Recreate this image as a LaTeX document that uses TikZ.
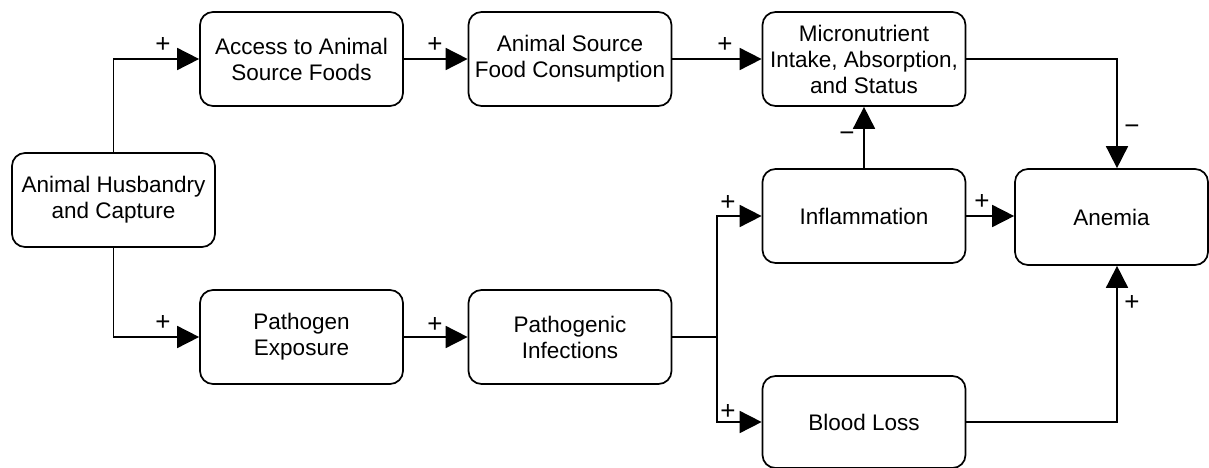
\documentclass[tikz,border=0pt]{standalone}
\usepackage{fontspec}
\setmainfont{Liberation Sans}
\usetikzlibrary{arrows.meta}
\begin{document}
\begin{tikzpicture}[x=1pt,y=-1pt,
  box/.style={draw,line width=1.7pt,rounded corners=13pt,align=center,inner sep=0pt,
    font=\fontsize{22.5}{26}\selectfont,minimum width=203pt,minimum height=94pt},
  conn/.style={line width=1.7pt,-{Triangle[length=22pt,width=22pt]}},
  sgn/.style={font=\fontsize{26}{28}\selectfont,inner sep=0pt}]
\useasboundingbox (0,0) rectangle (1209,468);
\node[box] (hus) at (113.5,200) {Animal Husbandry\\and Capture};
\node[box] (acc) at (301.5,59) {Access to Animal\\Source Foods};
\node[box] (asfc) at (570,59) {Animal Source\\Food Consumption};
\node[box] (mic) at (864,59) {Micronutrient\\Intake, Absorption,\\and Status};
\node[box] (inf) at (864,216) {Inflammation};
\node[box,minimum width=193pt,minimum height=96pt] (ane) at (1111.5,217) {Anemia};
\node[box] (pexp) at (301.5,337) {Pathogen\\Exposure};
\node[box] (pinf) at (570,337) {Pathogenic\\Infections};
\node[box,minimum height=92pt] (blood) at (864,422) {Blood Loss};
\coordinate (j) at (717,337);
\draw[conn] (hus.north) |- (acc.west);
\draw[conn] (hus.south) |- (pexp.west);
\draw[conn] (acc.east) -- (asfc.west);
\draw[conn] (asfc.east) -- (mic.west);
\draw[conn] (pexp.east) -- (pinf.west);
\draw[conn] (mic.east) -| ([xshift=5.5pt]ane.north);
\draw[conn] (inf.north) -- (mic.south);
\draw[conn] (inf.east) -- (inf.east -| ane.west);
\draw[line width=1.7pt] (pinf.east) -- (j);
\draw[conn] (j) |- (inf.west);
\draw[conn] (j) |- (blood.west);
\draw[conn] (blood.east) -| ([xshift=5.5pt]ane.south);
\node[sgn] (s1) at (163,45) {+};
\node[sgn] (s2) at (435,45) {+};
\node[sgn] (s3) at (725,45) {+};
\node[sgn] (s4) at (847,137) {−};
\node[sgn] (s5) at (1132,130) {−};
\node[sgn] (s6) at (982,202) {+};
\node[sgn] (s7) at (728,203) {+};
\node[sgn] (s8) at (163,323) {+};
\node[sgn] (s9) at (435,325) {+};
\node[sgn] (s10) at (728,412) {+};
\node[sgn] (s11) at (1132,303) {+};
\end{tikzpicture}
\end{document}
